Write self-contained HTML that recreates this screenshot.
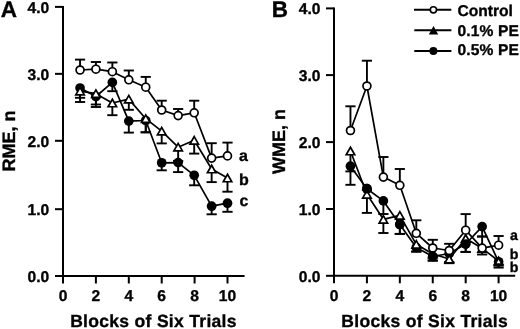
<!DOCTYPE html>
<html><head><meta charset="utf-8"><style>
html,body{margin:0;padding:0;background:#fff;}
svg{display:block;}
body{-webkit-font-smoothing:antialiased;}
.t{will-change:transform;}
svg text{font-family:"Liberation Sans",sans-serif;font-weight:bold;fill:#000;stroke:#000;stroke-width:0.35px;text-rendering:geometricPrecision;}
</style></head><body>
<svg width="520" height="329" viewBox="0 0 520 329">
<rect width="520" height="329" fill="#fff"/>
<g stroke="#000" fill="none">
<line x1="63.00" y1="5.90" x2="63.00" y2="277.00" stroke-width="2.0" stroke-linecap="butt"/>
<line x1="62.00" y1="276.00" x2="244.60" y2="276.00" stroke-width="2.0" stroke-linecap="butt"/>
<line x1="55.00" y1="6.90" x2="63.00" y2="6.90" stroke-width="2.0" stroke-linecap="butt"/>
<line x1="55.00" y1="73.85" x2="63.00" y2="73.85" stroke-width="2.0" stroke-linecap="butt"/>
<line x1="55.00" y1="140.80" x2="63.00" y2="140.80" stroke-width="2.0" stroke-linecap="butt"/>
<line x1="55.00" y1="209.20" x2="63.00" y2="209.20" stroke-width="2.0" stroke-linecap="butt"/>
<line x1="55.00" y1="276.00" x2="63.00" y2="276.00" stroke-width="2.0" stroke-linecap="butt"/>
<line x1="63.00" y1="276.00" x2="63.00" y2="283.50" stroke-width="2.0" stroke-linecap="butt"/>
<line x1="95.90" y1="276.00" x2="95.90" y2="283.50" stroke-width="2.0" stroke-linecap="butt"/>
<line x1="128.80" y1="276.00" x2="128.80" y2="283.50" stroke-width="2.0" stroke-linecap="butt"/>
<line x1="161.70" y1="276.00" x2="161.70" y2="283.50" stroke-width="2.0" stroke-linecap="butt"/>
<line x1="194.60" y1="276.00" x2="194.60" y2="283.50" stroke-width="2.0" stroke-linecap="butt"/>
<line x1="227.50" y1="276.00" x2="227.50" y2="283.50" stroke-width="2.0" stroke-linecap="butt"/>
<line x1="80.05" y1="88.00" x2="80.05" y2="97.80" stroke-width="1.9" stroke-linecap="butt"/>
<line x1="74.95" y1="97.80" x2="85.15" y2="97.80" stroke-width="1.9" stroke-linecap="butt"/>
<line x1="95.90" y1="96.50" x2="95.90" y2="104.50" stroke-width="1.9" stroke-linecap="butt"/>
<line x1="90.80" y1="104.50" x2="101.00" y2="104.50" stroke-width="1.9" stroke-linecap="butt"/>
<line x1="112.35" y1="82.40" x2="112.35" y2="91.20" stroke-width="1.9" stroke-linecap="butt"/>
<line x1="107.25" y1="91.20" x2="117.45" y2="91.20" stroke-width="1.9" stroke-linecap="butt"/>
<line x1="128.80" y1="121.10" x2="128.80" y2="132.60" stroke-width="1.9" stroke-linecap="butt"/>
<line x1="123.70" y1="132.60" x2="133.90" y2="132.60" stroke-width="1.9" stroke-linecap="butt"/>
<line x1="145.75" y1="120.50" x2="145.75" y2="132.30" stroke-width="1.9" stroke-linecap="butt"/>
<line x1="140.65" y1="132.30" x2="150.85" y2="132.30" stroke-width="1.9" stroke-linecap="butt"/>
<line x1="161.70" y1="162.80" x2="161.70" y2="170.30" stroke-width="1.9" stroke-linecap="butt"/>
<line x1="156.60" y1="170.30" x2="166.80" y2="170.30" stroke-width="1.9" stroke-linecap="butt"/>
<line x1="178.15" y1="162.60" x2="178.15" y2="172.10" stroke-width="1.9" stroke-linecap="butt"/>
<line x1="173.05" y1="172.10" x2="183.25" y2="172.10" stroke-width="1.9" stroke-linecap="butt"/>
<line x1="194.20" y1="175.30" x2="194.20" y2="185.30" stroke-width="1.9" stroke-linecap="butt"/>
<line x1="189.10" y1="185.30" x2="199.30" y2="185.30" stroke-width="1.9" stroke-linecap="butt"/>
<line x1="211.65" y1="206.20" x2="211.65" y2="214.30" stroke-width="1.9" stroke-linecap="butt"/>
<line x1="206.55" y1="214.30" x2="216.75" y2="214.30" stroke-width="1.9" stroke-linecap="butt"/>
<line x1="227.50" y1="203.20" x2="227.50" y2="211.80" stroke-width="1.9" stroke-linecap="butt"/>
<line x1="222.40" y1="211.80" x2="232.60" y2="211.80" stroke-width="1.9" stroke-linecap="butt"/>
<line x1="80.05" y1="91.20" x2="80.05" y2="102.00" stroke-width="1.9" stroke-linecap="butt"/>
<line x1="74.95" y1="102.00" x2="85.15" y2="102.00" stroke-width="1.9" stroke-linecap="butt"/>
<line x1="95.90" y1="93.70" x2="95.90" y2="107.00" stroke-width="1.9" stroke-linecap="butt"/>
<line x1="90.80" y1="107.00" x2="101.00" y2="107.00" stroke-width="1.9" stroke-linecap="butt"/>
<line x1="112.35" y1="103.00" x2="112.35" y2="115.20" stroke-width="1.9" stroke-linecap="butt"/>
<line x1="107.25" y1="115.20" x2="117.45" y2="115.20" stroke-width="1.9" stroke-linecap="butt"/>
<line x1="128.80" y1="99.10" x2="128.80" y2="109.80" stroke-width="1.9" stroke-linecap="butt"/>
<line x1="123.70" y1="109.80" x2="133.90" y2="109.80" stroke-width="1.9" stroke-linecap="butt"/>
<line x1="145.75" y1="118.70" x2="145.75" y2="132.30" stroke-width="1.9" stroke-linecap="butt"/>
<line x1="140.65" y1="132.30" x2="150.85" y2="132.30" stroke-width="1.9" stroke-linecap="butt"/>
<line x1="161.70" y1="131.10" x2="161.70" y2="143.40" stroke-width="1.9" stroke-linecap="butt"/>
<line x1="156.60" y1="143.40" x2="166.80" y2="143.40" stroke-width="1.9" stroke-linecap="butt"/>
<line x1="178.15" y1="147.20" x2="178.15" y2="161.00" stroke-width="1.9" stroke-linecap="butt"/>
<line x1="173.05" y1="161.00" x2="183.25" y2="161.00" stroke-width="1.9" stroke-linecap="butt"/>
<line x1="194.20" y1="140.30" x2="194.20" y2="153.60" stroke-width="1.9" stroke-linecap="butt"/>
<line x1="189.10" y1="153.60" x2="199.30" y2="153.60" stroke-width="1.9" stroke-linecap="butt"/>
<line x1="211.65" y1="169.00" x2="211.65" y2="182.10" stroke-width="1.9" stroke-linecap="butt"/>
<line x1="206.55" y1="182.10" x2="216.75" y2="182.10" stroke-width="1.9" stroke-linecap="butt"/>
<line x1="227.50" y1="178.00" x2="227.50" y2="191.70" stroke-width="1.9" stroke-linecap="butt"/>
<line x1="222.40" y1="191.70" x2="232.60" y2="191.70" stroke-width="1.9" stroke-linecap="butt"/>
<line x1="80.05" y1="70.00" x2="80.05" y2="59.60" stroke-width="1.9" stroke-linecap="butt"/>
<line x1="74.95" y1="59.60" x2="85.15" y2="59.60" stroke-width="1.9" stroke-linecap="butt"/>
<line x1="95.90" y1="69.20" x2="95.90" y2="62.00" stroke-width="1.9" stroke-linecap="butt"/>
<line x1="90.80" y1="62.00" x2="101.00" y2="62.00" stroke-width="1.9" stroke-linecap="butt"/>
<line x1="112.35" y1="71.70" x2="112.35" y2="62.50" stroke-width="1.9" stroke-linecap="butt"/>
<line x1="107.25" y1="62.50" x2="117.45" y2="62.50" stroke-width="1.9" stroke-linecap="butt"/>
<line x1="128.80" y1="79.80" x2="128.80" y2="70.50" stroke-width="1.9" stroke-linecap="butt"/>
<line x1="123.70" y1="70.50" x2="133.90" y2="70.50" stroke-width="1.9" stroke-linecap="butt"/>
<line x1="145.75" y1="87.20" x2="145.75" y2="76.90" stroke-width="1.9" stroke-linecap="butt"/>
<line x1="140.65" y1="76.90" x2="150.85" y2="76.90" stroke-width="1.9" stroke-linecap="butt"/>
<line x1="161.70" y1="110.00" x2="161.70" y2="100.70" stroke-width="1.9" stroke-linecap="butt"/>
<line x1="156.60" y1="100.70" x2="166.80" y2="100.70" stroke-width="1.9" stroke-linecap="butt"/>
<line x1="178.15" y1="115.60" x2="178.15" y2="109.00" stroke-width="1.9" stroke-linecap="butt"/>
<line x1="173.05" y1="109.00" x2="183.25" y2="109.00" stroke-width="1.9" stroke-linecap="butt"/>
<line x1="194.20" y1="112.80" x2="194.20" y2="100.70" stroke-width="1.9" stroke-linecap="butt"/>
<line x1="189.10" y1="100.70" x2="199.30" y2="100.70" stroke-width="1.9" stroke-linecap="butt"/>
<line x1="211.65" y1="158.10" x2="211.65" y2="143.20" stroke-width="1.9" stroke-linecap="butt"/>
<line x1="206.55" y1="143.20" x2="216.75" y2="143.20" stroke-width="1.9" stroke-linecap="butt"/>
<line x1="227.50" y1="155.90" x2="227.50" y2="142.60" stroke-width="1.9" stroke-linecap="butt"/>
<line x1="222.40" y1="142.60" x2="232.60" y2="142.60" stroke-width="1.9" stroke-linecap="butt"/>
<polyline points="80.05,88.00 95.90,96.50 112.35,82.40 128.80,121.10 145.75,120.50 161.70,162.80 178.15,162.60 194.20,175.30 211.65,206.20 227.50,203.20" fill="none" stroke-width="1.7" stroke-linejoin="round"/>
<polyline points="80.05,91.20 95.90,93.70 112.35,103.00 128.80,99.10 145.75,118.70 161.70,131.10 178.15,147.20 194.20,140.30 211.65,169.00 227.50,178.00" fill="none" stroke-width="1.7" stroke-linejoin="round"/>
<polyline points="80.05,70.00 95.90,69.20 112.35,71.70 128.80,79.80 145.75,87.20 161.70,110.00 178.15,115.60 194.20,112.80 211.65,158.10 227.50,155.90" fill="none" stroke-width="1.7" stroke-linejoin="round"/>
<circle cx="80.05" cy="88.00" r="4.85" fill="#000" stroke="none"/>
<circle cx="95.90" cy="96.50" r="4.85" fill="#000" stroke="none"/>
<circle cx="112.35" cy="82.40" r="4.85" fill="#000" stroke="none"/>
<circle cx="128.80" cy="121.10" r="4.85" fill="#000" stroke="none"/>
<circle cx="145.75" cy="120.50" r="4.85" fill="#000" stroke="none"/>
<circle cx="161.70" cy="162.80" r="4.85" fill="#000" stroke="none"/>
<circle cx="178.15" cy="162.60" r="4.85" fill="#000" stroke="none"/>
<circle cx="194.20" cy="175.30" r="4.85" fill="#000" stroke="none"/>
<circle cx="211.65" cy="206.20" r="4.85" fill="#000" stroke="none"/>
<circle cx="227.50" cy="203.20" r="4.85" fill="#000" stroke="none"/>
<polygon points="80.05,87.45 84.30,94.95 75.80,94.95" fill="#fff" stroke-width="1.7" stroke-linejoin="miter"/>
<polygon points="95.90,89.95 100.15,97.45 91.65,97.45" fill="#fff" stroke-width="1.7" stroke-linejoin="miter"/>
<polygon points="112.35,99.25 116.60,106.75 108.10,106.75" fill="#fff" stroke-width="1.7" stroke-linejoin="miter"/>
<polygon points="128.80,95.35 133.05,102.85 124.55,102.85" fill="#fff" stroke-width="1.7" stroke-linejoin="miter"/>
<polygon points="145.75,114.95 150.00,122.45 141.50,122.45" fill="#fff" stroke-width="1.7" stroke-linejoin="miter"/>
<polygon points="161.70,127.35 165.95,134.85 157.45,134.85" fill="#fff" stroke-width="1.7" stroke-linejoin="miter"/>
<polygon points="178.15,143.45 182.40,150.95 173.90,150.95" fill="#fff" stroke-width="1.7" stroke-linejoin="miter"/>
<polygon points="194.20,136.55 198.45,144.05 189.95,144.05" fill="#fff" stroke-width="1.7" stroke-linejoin="miter"/>
<polygon points="211.65,165.25 215.90,172.75 207.40,172.75" fill="#fff" stroke-width="1.7" stroke-linejoin="miter"/>
<polygon points="227.50,174.25 231.75,181.75 223.25,181.75" fill="#fff" stroke-width="1.7" stroke-linejoin="miter"/>
<circle cx="80.05" cy="70.00" r="3.95" fill="#fff" stroke-width="1.7"/>
<circle cx="95.90" cy="69.20" r="3.95" fill="#fff" stroke-width="1.7"/>
<circle cx="112.35" cy="71.70" r="3.95" fill="#fff" stroke-width="1.7"/>
<circle cx="128.80" cy="79.80" r="3.95" fill="#fff" stroke-width="1.7"/>
<circle cx="145.75" cy="87.20" r="3.95" fill="#fff" stroke-width="1.7"/>
<circle cx="161.70" cy="110.00" r="3.95" fill="#fff" stroke-width="1.7"/>
<circle cx="178.15" cy="115.60" r="3.95" fill="#fff" stroke-width="1.7"/>
<circle cx="194.20" cy="112.80" r="3.95" fill="#fff" stroke-width="1.7"/>
<circle cx="211.65" cy="158.10" r="3.95" fill="#fff" stroke-width="1.7"/>
<circle cx="227.50" cy="155.90" r="3.95" fill="#fff" stroke-width="1.7"/>
<line x1="334.00" y1="7.40" x2="334.00" y2="276.80" stroke-width="2.0" stroke-linecap="butt"/>
<line x1="333.00" y1="275.80" x2="515.20" y2="275.80" stroke-width="2.0" stroke-linecap="butt"/>
<line x1="326.00" y1="8.40" x2="334.00" y2="8.40" stroke-width="2.0" stroke-linecap="butt"/>
<line x1="326.00" y1="75.10" x2="334.00" y2="75.10" stroke-width="2.0" stroke-linecap="butt"/>
<line x1="326.00" y1="142.10" x2="334.00" y2="142.10" stroke-width="2.0" stroke-linecap="butt"/>
<line x1="326.00" y1="209.00" x2="334.00" y2="209.00" stroke-width="2.0" stroke-linecap="butt"/>
<line x1="326.00" y1="275.80" x2="334.00" y2="275.80" stroke-width="2.0" stroke-linecap="butt"/>
<line x1="334.00" y1="275.80" x2="334.00" y2="283.30" stroke-width="2.0" stroke-linecap="butt"/>
<line x1="366.92" y1="275.80" x2="366.92" y2="283.30" stroke-width="2.0" stroke-linecap="butt"/>
<line x1="399.84" y1="275.80" x2="399.84" y2="283.30" stroke-width="2.0" stroke-linecap="butt"/>
<line x1="432.76" y1="275.80" x2="432.76" y2="283.30" stroke-width="2.0" stroke-linecap="butt"/>
<line x1="465.68" y1="275.80" x2="465.68" y2="283.30" stroke-width="2.0" stroke-linecap="butt"/>
<line x1="498.60" y1="275.80" x2="498.60" y2="283.30" stroke-width="2.0" stroke-linecap="butt"/>
<line x1="350.46" y1="166.20" x2="350.46" y2="184.80" stroke-width="1.9" stroke-linecap="butt"/>
<line x1="345.36" y1="184.80" x2="355.56" y2="184.80" stroke-width="1.9" stroke-linecap="butt"/>
<line x1="366.92" y1="188.70" x2="366.92" y2="190.00" stroke-width="1.9" stroke-linecap="butt"/>
<line x1="361.82" y1="190.00" x2="372.02" y2="190.00" stroke-width="1.9" stroke-linecap="butt"/>
<line x1="383.38" y1="200.90" x2="383.38" y2="214.00" stroke-width="1.9" stroke-linecap="butt"/>
<line x1="378.28" y1="214.00" x2="388.48" y2="214.00" stroke-width="1.9" stroke-linecap="butt"/>
<line x1="399.84" y1="224.50" x2="399.84" y2="233.90" stroke-width="1.9" stroke-linecap="butt"/>
<line x1="394.74" y1="233.90" x2="404.94" y2="233.90" stroke-width="1.9" stroke-linecap="butt"/>
<line x1="416.30" y1="247.50" x2="416.30" y2="251.60" stroke-width="1.9" stroke-linecap="butt"/>
<line x1="411.20" y1="251.60" x2="421.40" y2="251.60" stroke-width="1.9" stroke-linecap="butt"/>
<line x1="432.76" y1="256.50" x2="432.76" y2="260.60" stroke-width="1.9" stroke-linecap="butt"/>
<line x1="427.66" y1="260.60" x2="437.86" y2="260.60" stroke-width="1.9" stroke-linecap="butt"/>
<line x1="449.22" y1="253.50" x2="449.22" y2="262.00" stroke-width="1.9" stroke-linecap="butt"/>
<line x1="444.12" y1="262.00" x2="454.32" y2="262.00" stroke-width="1.9" stroke-linecap="butt"/>
<line x1="465.68" y1="244.00" x2="465.68" y2="251.90" stroke-width="1.9" stroke-linecap="butt"/>
<line x1="460.58" y1="251.90" x2="470.78" y2="251.90" stroke-width="1.9" stroke-linecap="butt"/>
<line x1="482.14" y1="226.60" x2="482.14" y2="236.50" stroke-width="1.9" stroke-linecap="butt"/>
<line x1="477.04" y1="236.50" x2="487.24" y2="236.50" stroke-width="1.9" stroke-linecap="butt"/>
<line x1="498.60" y1="261.80" x2="498.60" y2="267.60" stroke-width="1.9" stroke-linecap="butt"/>
<line x1="493.50" y1="267.60" x2="503.70" y2="267.60" stroke-width="1.9" stroke-linecap="butt"/>
<line x1="350.46" y1="151.00" x2="350.46" y2="171.40" stroke-width="1.9" stroke-linecap="butt"/>
<line x1="345.36" y1="171.40" x2="355.56" y2="171.40" stroke-width="1.9" stroke-linecap="butt"/>
<line x1="366.92" y1="194.30" x2="366.92" y2="212.90" stroke-width="1.9" stroke-linecap="butt"/>
<line x1="361.82" y1="212.90" x2="372.02" y2="212.90" stroke-width="1.9" stroke-linecap="butt"/>
<line x1="383.38" y1="219.30" x2="383.38" y2="233.00" stroke-width="1.9" stroke-linecap="butt"/>
<line x1="378.28" y1="233.00" x2="388.48" y2="233.00" stroke-width="1.9" stroke-linecap="butt"/>
<line x1="399.84" y1="215.40" x2="399.84" y2="233.90" stroke-width="1.9" stroke-linecap="butt"/>
<line x1="394.74" y1="233.90" x2="404.94" y2="233.90" stroke-width="1.9" stroke-linecap="butt"/>
<line x1="416.30" y1="244.30" x2="416.30" y2="251.60" stroke-width="1.9" stroke-linecap="butt"/>
<line x1="411.20" y1="251.60" x2="421.40" y2="251.60" stroke-width="1.9" stroke-linecap="butt"/>
<line x1="432.76" y1="254.00" x2="432.76" y2="260.60" stroke-width="1.9" stroke-linecap="butt"/>
<line x1="427.66" y1="260.60" x2="437.86" y2="260.60" stroke-width="1.9" stroke-linecap="butt"/>
<line x1="449.22" y1="259.00" x2="449.22" y2="263.20" stroke-width="1.9" stroke-linecap="butt"/>
<line x1="444.12" y1="263.20" x2="454.32" y2="263.20" stroke-width="1.9" stroke-linecap="butt"/>
<line x1="465.68" y1="238.50" x2="465.68" y2="251.90" stroke-width="1.9" stroke-linecap="butt"/>
<line x1="460.58" y1="251.90" x2="470.78" y2="251.90" stroke-width="1.9" stroke-linecap="butt"/>
<line x1="482.14" y1="248.30" x2="482.14" y2="254.50" stroke-width="1.9" stroke-linecap="butt"/>
<line x1="477.04" y1="254.50" x2="487.24" y2="254.50" stroke-width="1.9" stroke-linecap="butt"/>
<line x1="498.60" y1="261.00" x2="498.60" y2="265.60" stroke-width="1.9" stroke-linecap="butt"/>
<line x1="493.50" y1="265.60" x2="503.70" y2="265.60" stroke-width="1.9" stroke-linecap="butt"/>
<line x1="350.46" y1="130.50" x2="350.46" y2="106.30" stroke-width="1.9" stroke-linecap="butt"/>
<line x1="345.36" y1="106.30" x2="355.56" y2="106.30" stroke-width="1.9" stroke-linecap="butt"/>
<line x1="366.92" y1="86.00" x2="366.92" y2="60.70" stroke-width="1.9" stroke-linecap="butt"/>
<line x1="361.82" y1="60.70" x2="372.02" y2="60.70" stroke-width="1.9" stroke-linecap="butt"/>
<line x1="383.38" y1="177.10" x2="383.38" y2="157.00" stroke-width="1.9" stroke-linecap="butt"/>
<line x1="378.28" y1="157.00" x2="388.48" y2="157.00" stroke-width="1.9" stroke-linecap="butt"/>
<line x1="399.84" y1="185.30" x2="399.84" y2="169.00" stroke-width="1.9" stroke-linecap="butt"/>
<line x1="394.74" y1="169.00" x2="404.94" y2="169.00" stroke-width="1.9" stroke-linecap="butt"/>
<line x1="416.30" y1="233.30" x2="416.30" y2="220.30" stroke-width="1.9" stroke-linecap="butt"/>
<line x1="411.20" y1="220.30" x2="421.40" y2="220.30" stroke-width="1.9" stroke-linecap="butt"/>
<line x1="432.76" y1="248.00" x2="432.76" y2="239.80" stroke-width="1.9" stroke-linecap="butt"/>
<line x1="427.66" y1="239.80" x2="437.86" y2="239.80" stroke-width="1.9" stroke-linecap="butt"/>
<line x1="449.22" y1="250.50" x2="449.22" y2="243.80" stroke-width="1.9" stroke-linecap="butt"/>
<line x1="444.12" y1="243.80" x2="454.32" y2="243.80" stroke-width="1.9" stroke-linecap="butt"/>
<line x1="465.68" y1="230.20" x2="465.68" y2="214.10" stroke-width="1.9" stroke-linecap="butt"/>
<line x1="460.58" y1="214.10" x2="470.78" y2="214.10" stroke-width="1.9" stroke-linecap="butt"/>
<line x1="482.14" y1="248.10" x2="482.14" y2="236.50" stroke-width="1.9" stroke-linecap="butt"/>
<line x1="477.04" y1="236.50" x2="487.24" y2="236.50" stroke-width="1.9" stroke-linecap="butt"/>
<line x1="498.60" y1="245.20" x2="498.60" y2="236.00" stroke-width="1.9" stroke-linecap="butt"/>
<line x1="493.50" y1="236.00" x2="503.70" y2="236.00" stroke-width="1.9" stroke-linecap="butt"/>
<polyline points="350.46,166.20 366.92,188.70 383.38,200.90 399.84,224.50 416.30,247.50 432.76,256.50 449.22,253.50 465.68,244.00 482.14,226.60 498.60,261.80" fill="none" stroke-width="1.7" stroke-linejoin="round"/>
<polyline points="350.46,151.00 366.92,194.30 383.38,219.30 399.84,215.40 416.30,244.30 432.76,254.00 449.22,259.00 465.68,238.50 482.14,248.30 498.60,261.00" fill="none" stroke-width="1.7" stroke-linejoin="round"/>
<polyline points="350.46,130.50 366.92,86.00 383.38,177.10 399.84,185.30 416.30,233.30 432.76,248.00 449.22,250.50 465.68,230.20 482.14,248.10 498.60,245.20" fill="none" stroke-width="1.7" stroke-linejoin="round"/>
<circle cx="350.46" cy="166.20" r="4.85" fill="#000" stroke="none"/>
<circle cx="366.92" cy="188.70" r="4.85" fill="#000" stroke="none"/>
<circle cx="383.38" cy="200.90" r="4.85" fill="#000" stroke="none"/>
<circle cx="399.84" cy="224.50" r="4.85" fill="#000" stroke="none"/>
<circle cx="416.30" cy="247.50" r="4.85" fill="#000" stroke="none"/>
<circle cx="432.76" cy="256.50" r="4.85" fill="#000" stroke="none"/>
<circle cx="449.22" cy="253.50" r="4.85" fill="#000" stroke="none"/>
<circle cx="465.68" cy="244.00" r="4.85" fill="#000" stroke="none"/>
<circle cx="482.14" cy="226.60" r="4.85" fill="#000" stroke="none"/>
<circle cx="498.60" cy="261.80" r="4.85" fill="#000" stroke="none"/>
<polygon points="350.46,147.25 354.71,154.75 346.21,154.75" fill="#fff" stroke-width="1.7" stroke-linejoin="miter"/>
<polygon points="366.92,190.55 371.17,198.05 362.67,198.05" fill="#fff" stroke-width="1.7" stroke-linejoin="miter"/>
<polygon points="383.38,215.55 387.63,223.05 379.13,223.05" fill="#fff" stroke-width="1.7" stroke-linejoin="miter"/>
<polygon points="399.84,211.65 404.09,219.15 395.59,219.15" fill="#fff" stroke-width="1.7" stroke-linejoin="miter"/>
<polygon points="416.30,240.55 420.55,248.05 412.05,248.05" fill="#fff" stroke-width="1.7" stroke-linejoin="miter"/>
<polygon points="432.76,250.25 437.01,257.75 428.51,257.75" fill="#fff" stroke-width="1.7" stroke-linejoin="miter"/>
<polygon points="449.22,255.25 453.47,262.75 444.97,262.75" fill="#fff" stroke-width="1.7" stroke-linejoin="miter"/>
<polygon points="465.68,234.75 469.93,242.25 461.43,242.25" fill="#fff" stroke-width="1.7" stroke-linejoin="miter"/>
<polygon points="482.14,244.55 486.39,252.05 477.89,252.05" fill="#fff" stroke-width="1.7" stroke-linejoin="miter"/>
<polygon points="498.60,257.57 502.53,264.43 494.68,264.43" fill="#fff" stroke-width="2.15" stroke-linejoin="miter"/>
<circle cx="366.92" cy="188.70" r="4.85" fill="#000" stroke="none"/>
<circle cx="399.84" cy="224.50" r="4.85" fill="#000" stroke="none"/>
<circle cx="432.76" cy="256.50" r="4.85" fill="#000" stroke="none"/>
<circle cx="465.68" cy="244.00" r="4.85" fill="#000" stroke="none"/>
<circle cx="350.46" cy="130.50" r="3.95" fill="#fff" stroke-width="1.7"/>
<circle cx="366.92" cy="86.00" r="3.95" fill="#fff" stroke-width="1.7"/>
<circle cx="383.38" cy="177.10" r="3.95" fill="#fff" stroke-width="1.7"/>
<circle cx="399.84" cy="185.30" r="3.95" fill="#fff" stroke-width="1.7"/>
<circle cx="416.30" cy="233.30" r="3.95" fill="#fff" stroke-width="1.7"/>
<circle cx="432.76" cy="248.00" r="3.95" fill="#fff" stroke-width="1.7"/>
<circle cx="449.22" cy="250.50" r="3.95" fill="#fff" stroke-width="1.7"/>
<circle cx="465.68" cy="230.20" r="3.95" fill="#fff" stroke-width="1.7"/>
<circle cx="482.14" cy="248.10" r="3.95" fill="#fff" stroke-width="1.7"/>
<circle cx="498.60" cy="245.20" r="3.95" fill="#fff" stroke-width="1.7"/>
<line x1="414.00" y1="9.70" x2="451.30" y2="9.70" stroke-width="2.0" stroke-linecap="butt"/>
<circle cx="433.40" cy="9.80" r="3.1" fill="#fff" stroke-width="1.6"/>
<line x1="414.30" y1="30.30" x2="451.40" y2="30.30" stroke-width="2.0" stroke-linecap="butt"/>
<polygon points="433.50,26.11 438.19,34.50 428.81,34.50" fill="#000" stroke-width="0.01" stroke-linejoin="miter"/>
<line x1="414.30" y1="51.00" x2="451.40" y2="51.00" stroke-width="2.0" stroke-linecap="butt"/>
<circle cx="433.40" cy="51.00" r="4.0" fill="#000" stroke="none"/>
</g>
<g class="t" opacity="0.999">
<text x="0.8" y="16.7" font-size="22.5" text-anchor="start" >A</text>
<text x="271.8" y="17.3" font-size="22.5" text-anchor="start" >B</text>
<text x="49.3" y="12.8" font-size="15.6" text-anchor="end" >4.0</text>
<text x="49.3" y="79.75" font-size="15.6" text-anchor="end" >3.0</text>
<text x="49.3" y="146.70000000000002" font-size="15.6" text-anchor="end" >2.0</text>
<text x="49.3" y="215.1" font-size="15.6" text-anchor="end" >1.0</text>
<text x="49.3" y="281.9" font-size="15.6" text-anchor="end" >0.0</text>
<text x="320.4" y="14.100000000000001" font-size="15.6" text-anchor="end" >4.0</text>
<text x="320.4" y="80.8" font-size="15.6" text-anchor="end" >3.0</text>
<text x="320.4" y="147.79999999999998" font-size="15.6" text-anchor="end" >2.0</text>
<text x="320.4" y="214.7" font-size="15.6" text-anchor="end" >1.0</text>
<text x="320.4" y="281.5" font-size="15.6" text-anchor="end" >0.0</text>
<text x="63.0" y="301.2" font-size="15.6" text-anchor="middle" >0</text>
<text x="334.0" y="301.2" font-size="15.6" text-anchor="middle" >0</text>
<text x="95.9" y="301.2" font-size="15.6" text-anchor="middle" >2</text>
<text x="366.92" y="301.2" font-size="15.6" text-anchor="middle" >2</text>
<text x="128.8" y="301.2" font-size="15.6" text-anchor="middle" >4</text>
<text x="399.84" y="301.2" font-size="15.6" text-anchor="middle" >4</text>
<text x="161.7" y="301.2" font-size="15.6" text-anchor="middle" >6</text>
<text x="432.76" y="301.2" font-size="15.6" text-anchor="middle" >6</text>
<text x="194.6" y="301.2" font-size="15.6" text-anchor="middle" >8</text>
<text x="465.68" y="301.2" font-size="15.6" text-anchor="middle" >8</text>
<text x="227.5" y="301.2" font-size="15.6" text-anchor="middle" >10</text>
<text x="498.6" y="301.2" font-size="15.6" text-anchor="middle" >10</text>
<text x="153.5" y="326.5" font-size="17.5" text-anchor="middle" letter-spacing="0.31">Blocks of Six Trials</text>
<text x="424.7" y="326.5" font-size="17.5" text-anchor="middle" letter-spacing="0.31">Blocks of Six Trials</text>
<text x="0" y="0" font-size="18" text-anchor="middle" transform="translate(15.0 141.1) rotate(-90)">RME, n</text>
<text x="0" y="0" font-size="18" text-anchor="middle" transform="translate(285.4 141.6) rotate(-90)">WME, n</text>
<text x="457.5" y="15.5" font-size="15.6" text-anchor="start" >Control</text>
<text x="457.5" y="35.8" font-size="15.6" text-anchor="start" letter-spacing="0.12">0.1% PE</text>
<text x="457.5" y="55.4" font-size="15.6" text-anchor="start" letter-spacing="0.12">0.5% PE</text>
<text x="239" y="160.5" font-size="16" text-anchor="start" >a</text>
<text x="239" y="185.0" font-size="16" text-anchor="start" >b</text>
<text x="239.5" y="206.2" font-size="16" text-anchor="start" >c</text>
<text x="510.0" y="240.4" font-size="14.2" text-anchor="start" >a</text>
<text x="509.8" y="258.7" font-size="14.2" text-anchor="start" >b</text>
<text x="509.8" y="271.8" font-size="14.2" text-anchor="start" >b</text>
</g>
</svg>
</body></html>
